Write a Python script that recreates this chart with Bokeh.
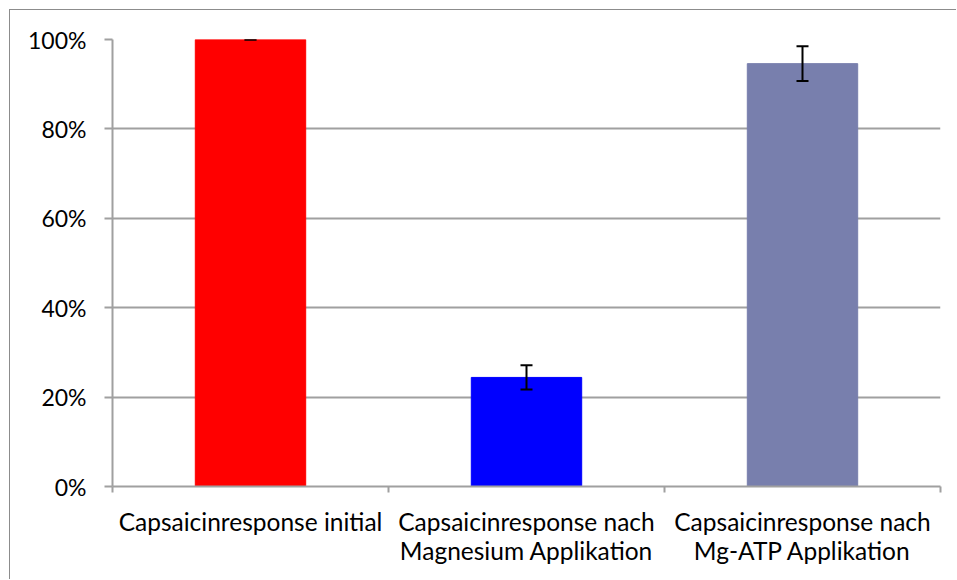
from bokeh.plotting import figure
from bokeh.models import (ColumnDataSource, FixedTicker, NumeralTickFormatter,
                          Whisker, TeeHead, Range1d)
from bokeh.embed import file_html
from bokeh.resources import INLINE

categories = ["Capsaicinresponse initial",
              "Capsaicinresponse nach\nMagnesium Applikation",
              "Capsaicinresponse nach\nMg-ATP Applikation"]
values = [1.00, 0.244, 0.946]
errors = [0.0, 0.027, 0.039]
colors = ["#FF0000", "#0000FF", "#787FAD"]
y_ticks = [0, 0.2, 0.4, 0.6, 0.8, 1.0]

xs = list(range(1, len(categories) + 1))
src = ColumnDataSource(dict(
    x=xs, top=values, color=colors,
    upper=[v + e for v, e in zip(values, errors)],
    lower=[v - e for v, e in zip(values, errors)],
))

FONT = "Lato"
p = figure(width=947, height=570, output_backend="svg", toolbar_location=None,
           x_range=Range1d(0.5, len(categories) + 0.5), y_range=Range1d(0, 1),
           min_border_left=102, min_border_right=17, min_border_top=29,
           min_border_bottom=94)
p.styles = {"margin-left": "9px", "margin-top": "9px",
            "border-left": "1px solid #8c8c8c", "border-top": "1px solid #8c8c8c"}
p.outline_line_color = None
p.background_fill_color = "white"
p.border_fill_color = "white"

p.vbar(x="x", top="top", width=0.4, color="color", source=src)
w = Whisker(base="x", upper="upper", lower="lower", source=src,
            line_color="black", line_width=2, level="overlay",
            upper_head=TeeHead(size=12, line_color="black", line_width=2),
            lower_head=TeeHead(size=12, line_color="black", line_width=2))
p.add_layout(w)

# grid
p.xgrid.grid_line_color = None
p.ygrid.ticker = FixedTicker(ticks=y_ticks)
p.ygrid.grid_line_color = "#a0a0a0"
p.ygrid.grid_line_width = 2

# y axis
p.yaxis.ticker = FixedTicker(ticks=y_ticks)
p.yaxis.formatter = NumeralTickFormatter(format="0%")
p.yaxis.axis_line_color = "#a0a0a0"
p.yaxis.axis_line_width = 2
p.yaxis.major_tick_line_color = "#a0a0a0"
p.yaxis.major_tick_line_width = 2
p.yaxis.major_tick_in = 0
p.yaxis.major_tick_out = 8
p.yaxis.minor_tick_line_color = None
p.yaxis.major_label_standoff = 18
p.yaxis.major_label_text_font = FONT
p.yaxis.major_label_text_font_size = "23px"
p.yaxis.major_label_text_color = "black"

# x axis
boundaries = [i + 0.5 for i in range(len(categories) + 1)]
p.xaxis.ticker = FixedTicker(ticks=xs, minor_ticks=boundaries)
p.xaxis.major_label_overrides = {x: c for x, c in zip(xs, categories)}
p.xaxis.axis_line_color = "#a0a0a0"
p.xaxis.axis_line_width = 2
p.xaxis.major_tick_line_color = None
p.xaxis.minor_tick_line_color = "#a0a0a0"
p.xaxis.minor_tick_line_width = 2
p.xaxis.minor_tick_in = 0
p.xaxis.minor_tick_out = 6
p.xaxis.major_label_standoff = 14
p.xaxis.major_label_text_font = FONT
p.xaxis.major_label_text_font_size = "24.5px"
p.xaxis.major_label_text_color = "black"
p.xaxis.major_label_text_line_height = 1.0

open("out.html", "w").write(file_html(p, INLINE))
